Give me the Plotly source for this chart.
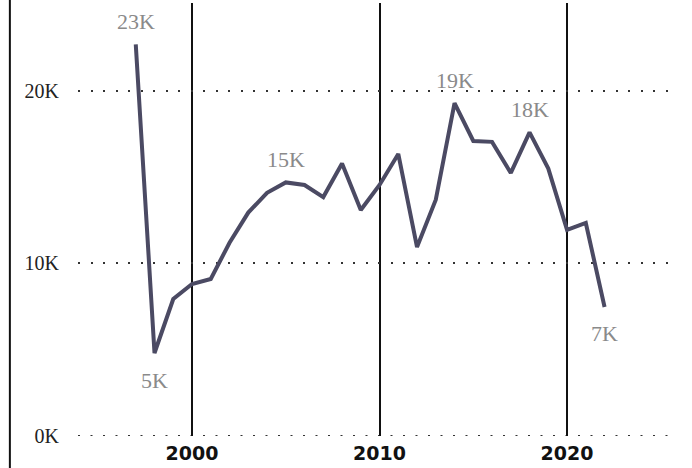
import plotly.graph_objects as go

years = list(range(1997, 2023))
values = [22700, 4810, 7940, 8810, 9100, 11200, 12950, 14100, 14700, 14550, 13850,
          15800, 13100, 14550, 16350, 10950, 13700, 19300, 17100, 17050, 15250,
          17600, 15500, 11950, 12350, 7480]

label_years = [1997, 1998, 2005, 2014, 2018, 2022]
label_pos = ["above", "below", "above", "above", "above", "below"]

y_tickvals = [0, 10000, 20000]
y_ticktext = ["0K", "10K", "20K"]
x_tickvals = [2000, 2010, 2020]

fig = go.Figure()
fig.add_trace(go.Scatter(
    x=years, y=values, mode="lines",
    line=dict(color="#4b4a63", width=4),
    hoverinfo="x+y", showlegend=False,
))

for yr, pos in zip(label_years, label_pos):
    v = values[years.index(yr)]
    fig.add_annotation(
        x=yr, y=v, xref="x", yref="y",
        text=f"{round(v/1000)}K", showarrow=False,
        yshift=23 if pos == "above" else -27,
        font=dict(family="Liberation Serif, Times New Roman, serif", size=22, color="#8a8a8a"),
    )

# left axis line spanning the full height
fig.add_shape(type="line", xref="paper", yref="paper",
              x0=-0.1145, x1=-0.1145, y0=-0.1, y1=1.1,
              line=dict(color="#111111", width=2), layer="above")
# dotted baseline at 0K (gridline at the range edge is not drawn)
fig.add_shape(type="line", xref="paper", yref="y",
              x0=0, x1=1, y0=0, y1=0,
              line=dict(color="#333333", width=2, dash="2px,10.5px"), layer="below")

fig.update_layout(
    width=692, height=468,
    margin=dict(l=78, r=19, t=3, b=32),
    paper_bgcolor="white", plot_bgcolor="white",
    xaxis=dict(
        range=[1993.92, 2025.65],
        tickvals=x_tickvals, ticktext=[str(v) for v in x_tickvals],
        showgrid=True, gridcolor="#111111", gridwidth=2,
        zeroline=False, showline=False, ticks="",
        tickfont=dict(family="DejaVu Sans", size=19, color="#111111", weight="bold"),
        ticklabelstandoff=4,
    ),
    yaxis=dict(
        range=[0, 25100],
        tickvals=y_tickvals, ticktext=y_ticktext,
        showgrid=True, gridcolor="#333333", gridwidth=2, griddash="2px,10.5px",
        zeroline=False, showline=False, ticks="",
        tickfont=dict(family="Liberation Serif, Times New Roman, serif", size=20, color="#222222"),
        ticklabelstandoff=18,
    ),
)

fig.write_html("out.html", config={"displayModeBar": False},
               post_script="document.body.style.margin='0px';")
